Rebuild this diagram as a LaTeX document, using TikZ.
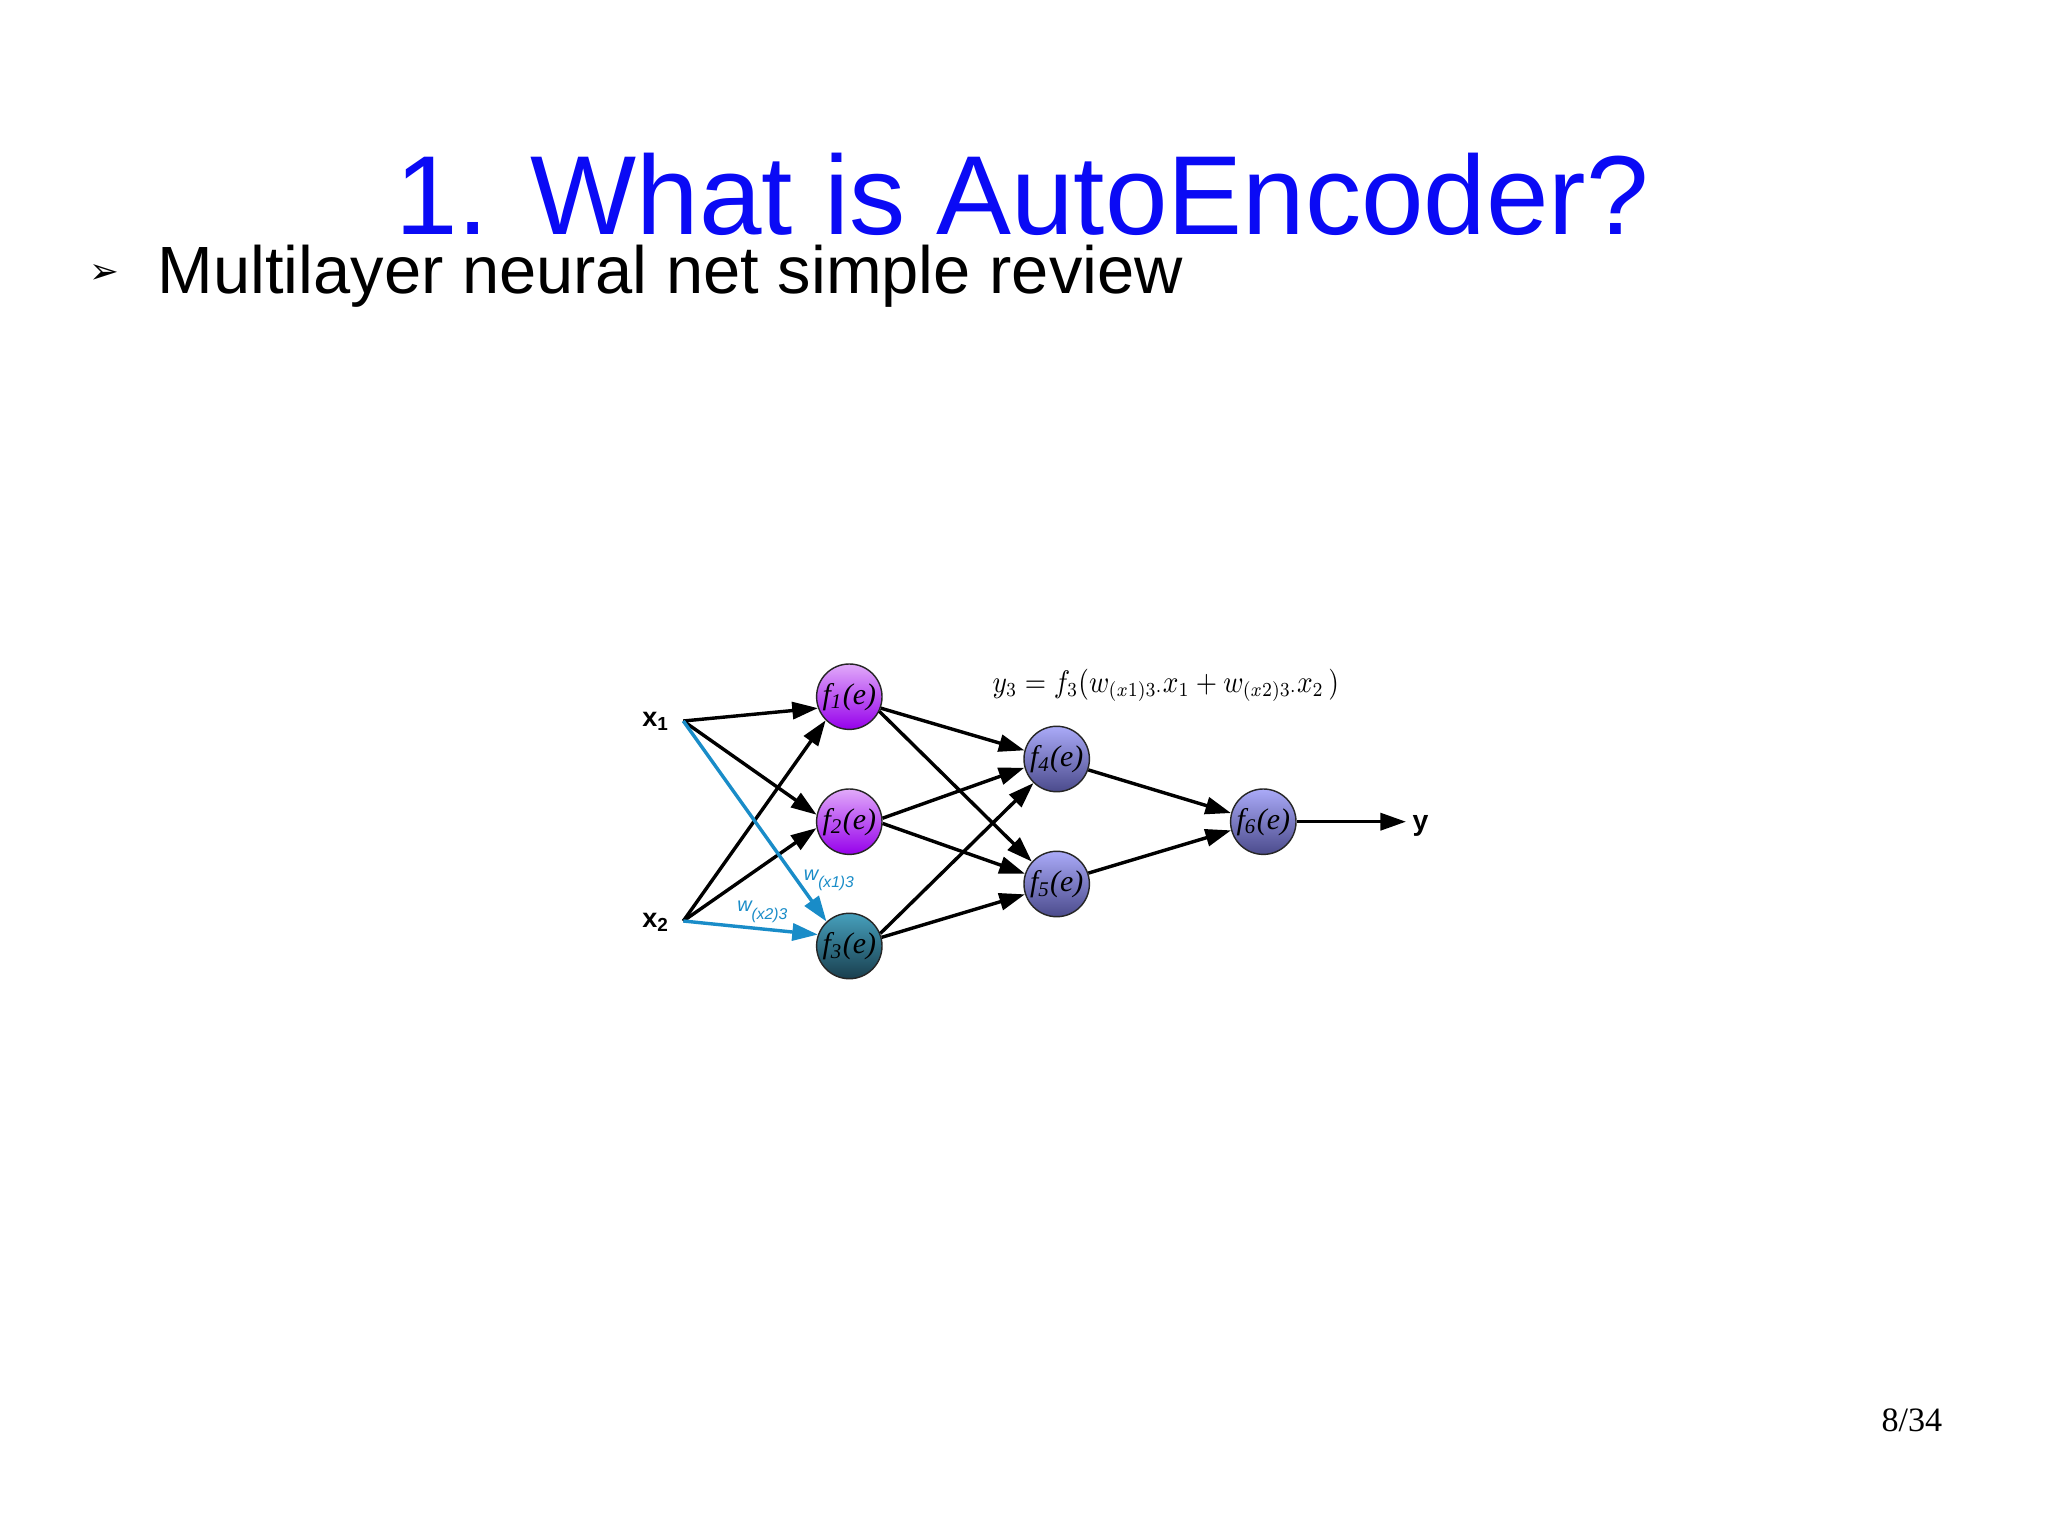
\documentclass[tikz,border=0pt]{standalone}
\usepackage{fontspec}
\setmainfont{Liberation Serif}
\setsansfont{Liberation Sans}
\newfontfamily\dejavu{DejaVu Sans}
\usetikzlibrary{arrows.meta}
\definecolor{violetL}{RGB}{225,170,250}
\definecolor{violetD}{RGB}{150,0,235}
\definecolor{tealL}{RGB}{70,160,188}
\definecolor{tealD}{RGB}{25,62,78}
\definecolor{periL}{RGB}{170,170,248}
\definecolor{periD}{RGB}{75,75,140}
\definecolor{wblue}{RGB}{25,140,200}
\definecolor{titleblue}{RGB}{10,10,245}
\tikzset{
  neuron/.style={circle, draw=black!85, line width=0.5pt, minimum size=23pt, inner sep=0pt,
    shading angle=45, font=\fontsize{10.5}{12}\selectfont\itshape},
  purn/.style={neuron, top color=violetL, bottom color=violetD},
  tealn/.style={neuron, top color=tealL, bottom color=tealD},
  perin/.style={neuron, top color=periL, bottom color=periD},
  conn/.style={line width=1.2pt, -{Triangle[length=9pt,width=6pt]}},
  bconn/.style={conn, draw=wblue, color=wblue},
  inlabel/.style={inner sep=0pt, font=\sffamily\bfseries\fontsize{9.5}{10}\selectfont},
  wlabel/.style={inner sep=0pt, anchor=base west, text=wblue, font=\sffamily\itshape\fontsize{7}{8}\selectfont},
}
\newcommand{\wsub}[1]{\raisebox{-2.8pt}{\fontsize{5.5}{6}\selectfont #1}}
\begin{document}
\begin{tikzpicture}[x=0.35156pt, y=-0.35156pt]
\useasboundingbox (0,0) rectangle (2048,1535);
\fill[white] (0,0) rectangle (2048,1535);

% title and bullet
\node[inner sep=0pt, anchor=base, text=titleblue, font=\sffamily\fontsize{39.5}{44}\selectfont] (title) at (1022,235) {1. What is AutoEncoder?};
\node[inner sep=0pt, font=\dejavu\fontsize{12.5}{12.5}\selectfont] (bullet) at (104,274) {➢};
\node[inner sep=0pt, anchor=base west, font=\sffamily\fontsize{23.5}{26}\selectfont] (sub) at (157,294) {Multilayer neural net simple review};

% neurons
\node[purn] (f1) at (849.3,696.7) {f\textsubscript{1}(e)};
\node[purn] (f2) at (849.3,821.7) {f\textsubscript{2}(e)};
\node[tealn] (f3) at (849.3,946) {f\textsubscript{3}(e)};
\node[perin] (f4) at (1056.7,759) {f\textsubscript{4}(e)};
\node[perin] (f5) at (1056.7,884) {f\textsubscript{5}(e)};
\node[perin] (f6) at (1263.3,821.7) {f\textsubscript{6}(e)};

% inputs / output
\node[inlabel, anchor=base west] (x1) at (641.7,726.7) {x\textsubscript{1}};
\node[inlabel, anchor=base west] (x2) at (641.7,927.3) {x\textsubscript{2}};
\coordinate (x1p) at (683.3,721);
\coordinate (x2p) at (683.3,921);
\coordinate (yend) at (1406,821.7);
\node[inner sep=0pt, anchor=base west, font=\sffamily\bfseries\fontsize{10}{11}\selectfont] (ylab) at (1412,830) {y};

% connectors
\draw[conn] (x1p) -- (f1.200);
\draw[conn] (x2p) -- (f1.225);
\draw[conn] (x1p) -- (f2.168);
\draw[conn] (x2p) -- (f2.191);
\draw[bconn] (x1p) -- (f3.133);
\draw[bconn] (x2p) -- (f3.160);
\draw[conn] (f1.-20) -- (f4.165);
\draw[conn] (f1.-26) -- (f5.138);
\draw[conn] (f2.6) -- (f4.195);
\draw[conn] (f2.-3) -- (f5.162);
\draw[conn] (f3.22) -- (f4.226);
\draw[conn] (f3.15) -- (f5.198);
\draw[conn] (f4.-19) -- (f6.165);
\draw[conn] (f5.19) -- (f6.195);
\draw[conn] (f6.east) -- (yend);

% weight labels
\node[wlabel] (w13) at (803.3,880) {w\wsub{(x1)3}};
\node[wlabel] (w23) at (736.7,911.7) {w\wsub{(x2)3}};

% formula
\node[inner sep=0pt, anchor=base west, font=\fontsize{10.5}{12}\selectfont] (formula) at (992,692)
  {\scalebox{0.88}[1]{$y_3 = f_3(w_{(x1)3\cdot}x_1 + w_{(x2)3\cdot}x_2\,)$}};

% page number
\node[inner sep=0pt, anchor=base west, font=\rmfamily\fontsize{12}{14}\selectfont] (page) at (1881,1431) {8/34};
\end{tikzpicture}
\end{document}
